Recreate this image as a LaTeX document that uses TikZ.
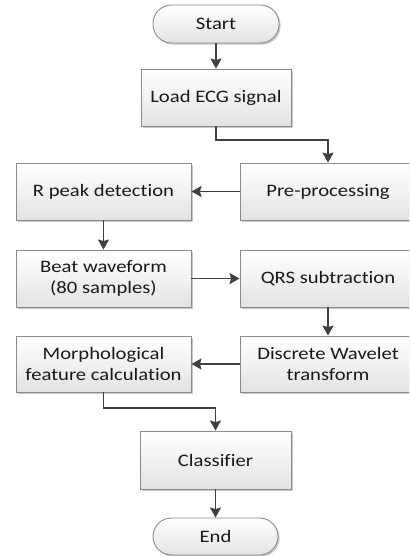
\documentclass[tikz,border=0pt]{standalone}
\usepackage{fontspec}
\setmainfont{Carlito}[FakeStretch=1.18,Ligatures={NoCommon}]
\usetikzlibrary{arrows.meta,shadows}
\definecolor{arrowgray}{HTML}{404040}
\definecolor{bordergray}{HTML}{8A8A8A}
\tikzset{
  stepbox/.style={draw=bordergray, line width=0.9pt, top color=white, bottom color=black!11,
    drop shadow={shadow xshift=1.6pt, shadow yshift=-1.6pt, fill=black!35, opacity=0.6},
    align=center, inner sep=2pt, text=black!90,
    font=\fontsize{17.5}{20.5}\selectfont},
  termbox/.style={stepbox, rounded corners=18.5pt},
  arr/.style={draw=arrowgray, line width=1.7pt, -{Stealth[length=10pt,width=11pt,inset=1.5pt]}}
}
\begin{document}
\begin{tikzpicture}[x=1pt,y=-1pt]
\useasboundingbox (0,0) rectangle (409,556);
\fill[white] (0,0) rectangle (409,556);
\clip (0,0) rectangle (409,556);
\node[termbox, minimum width=126pt, minimum height=38pt] (start) at (216,24) {Start};
\node[stepbox, minimum width=150pt, minimum height=57pt] (load) at (216,97.5) {Load ECG signal};
\node[stepbox, minimum width=176pt, minimum height=57pt] (pre) at (328,191.5) {Pre-processing};
\node[stepbox, minimum width=175pt, minimum height=57pt] (rpeak) at (103.5,191.5) {R peak detection};
\node[stepbox, minimum width=175pt, minimum height=57pt] (beat) at (103.5,278.5) {Beat waveform\\(80 samples)};
\node[stepbox, minimum width=176pt, minimum height=57pt] (qrs) at (328,278.5) {QRS subtraction};
\node[stepbox, minimum width=176pt, minimum height=56pt] (dwt) at (328,364) {Discrete Wavelet\\transform};
\node[stepbox, minimum width=175pt, minimum height=56pt] (morph) at (103.5,364) {Morphological\\feature calculation};
\node[stepbox, minimum width=151pt, minimum height=58pt] (cls) at (215.5,460) {Classifier};
\node[termbox, minimum width=125pt, minimum height=37pt] (end) at (215.5,536.5) {End};
\coordinate (bend1) at (216,140);
\coordinate (bend2) at (103.5,408);
\draw[arr] (start.south) -- (load.north);
\draw[arr] (load.south) -- (bend1) -| (pre.north);
\draw[arr] (pre.west) -- (rpeak.east);
\draw[arr] (rpeak.south) -- (beat.north);
\draw[arr] (beat.east) -- (qrs.west);
\draw[arr] (qrs.south) -- (dwt.north);
\draw[arr] (dwt.west) -- (morph.east);
\draw[arr] (morph.south) -- (bend2) -| (cls.north);
\draw[arr] (cls.south) -- (end.north);
\end{tikzpicture}
\end{document}
